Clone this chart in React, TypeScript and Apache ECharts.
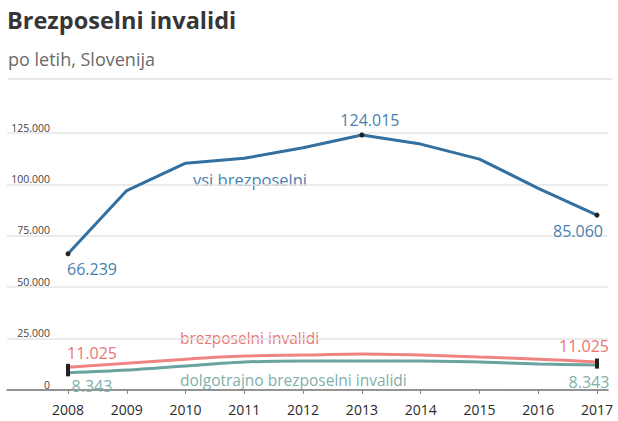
import React, { useEffect, useRef } from 'react';
import * as echarts from 'echarts';

const years = ['2008', '2009', '2010', '2011', '2012', '2013', '2014', '2015', '2016', '2017'];
const vsiBrezposelni = [66239, 97000, 110300, 112700, 117800, 124015, 119600, 112300, 98100, 85060];
const brezposelniInvalidi = [11025, 13000, 15000, 16500, 17000, 17500, 17000, 16000, 15000, 13600];
const dolgotrajnoInvalidi = [8343, 9700, 11700, 13600, 14100, 14100, 14100, 13600, 12600, 12100];
const blueLabelIdx = [0, 5, 9];
const redEndLabels = ['11.025', '11.025'];
const tealEndLabels = ['8.343', '8.343'];
const yMin = 0;
const yMax = 125000;
const yInterval = 25000;

const FONT = '"Open Sans", "Noto Sans", sans-serif';
const BLUE = '#33709f';
const BLUE_T = '#4a80ae';
const RED = '#ef8581';
const RED_T = '#ea7571';
const TEAL = '#6aa39f';
const TEAL_T = '#80b0ad';

function fmt(v: number): string {
  return String(v).replace(/\B(?=(\d{3})+(?!\d))/g, '.');
}

export default function App() {
  const ref = useRef<HTMLDivElement>(null);
  useEffect(() => {
    document.body.style.margin = '0';
    const chart = echarts.init(ref.current!, undefined, { renderer: 'svg' });
    const last = years.length - 1;

    const blueData = vsiBrezposelni.map((v, i) => {
      if (i === 0) return { value: v, label: { show: true, position: 'bottom', offset: [24, 0] } };
      if (i === 5) return { value: v, label: { show: true, position: 'top', offset: [8, 0] } };
      if (i === last) return { value: v, label: { show: true, position: 'bottom', offset: [-19, 0] } };
      return { value: v };
    });
    const redData = brezposelniInvalidi.map((v, i) => {
      if (i === 0) return { value: v, label: { show: true, position: 'top', offset: [24, 2], formatter: redEndLabels[0] } };
      if (i === last) return { value: v, label: { show: true, position: 'top', offset: [-13, 0], formatter: redEndLabels[1] } };
      return { value: v };
    });
    const tealData = dolgotrajnoInvalidi.map((v, i) => {
      if (i === 0) return { value: v, label: { show: true, position: 'bottom', offset: [24, -3], formatter: tealEndLabels[0] } };
      if (i === last) return { value: v, label: { show: true, position: 'bottom', offset: [-8, 0], formatter: tealEndLabels[1] } };
      return { value: v };
    });

    const endRect = (v: any, p: any) => (p.dataIndex === 0 || p.dataIndex === last ? [4, 7] : 0);

    chart.setOption({
      animation: false,
      grid: [
        { left: 7, right: 10, top: 133, bottom: 31 },
        { left: 68, right: 21, top: 133, bottom: 31 },
      ],
      xAxis: [
        {
          gridIndex: 0,
          type: 'category',
          data: years,
          boundaryGap: false,
          axisLine: { show: true, lineStyle: { color: '#777', width: 1.5 } },
          axisTick: { show: false },
          axisLabel: { show: false },
          splitLine: { show: false },
        },
        {
          gridIndex: 1,
          type: 'category',
          data: years,
          boundaryGap: false,
          axisLine: { show: false },
          axisTick: { show: true, length: 4, lineStyle: { color: '#888' } },
          axisLabel: { color: '#2a2a2a', fontSize: 14, fontFamily: FONT, margin: 12 },
          splitLine: { show: false },
        },
      ],
      yAxis: [
        {
          gridIndex: 0,
          type: 'value',
          min: yMin,
          max: yMax,
          interval: yInterval,
          axisLine: { show: false },
          axisTick: { show: false },
          axisLabel: {
            inside: true,
            margin: 43,
            align: 'right',
            verticalAlign: 'bottom',
            color: '#444',
            fontSize: 10.5,
            fontFamily: FONT,
            formatter: (v: number) => fmt(v),
          },
          splitLine: { show: true, lineStyle: { color: '#e4e4e4', width: 1.5 } },
        },
        {
          gridIndex: 1,
          type: 'value',
          min: yMin,
          max: yMax,
          interval: yInterval,
          show: false,
          splitLine: { show: false },
        },
      ],
      series: [
        {
          name: 'vsi brezposelni',
          type: 'line',
          xAxisIndex: 1,
          yAxisIndex: 1,
          data: blueData,
          symbol: 'circle',
          symbolSize: (v: any, p: any) => (blueLabelIdx.indexOf(p.dataIndex) >= 0 ? 5 : 0),
          itemStyle: { color: '#222' },
          lineStyle: { color: BLUE, width: 3 },
          label: {
            show: false,
            color: BLUE_T,
            fontSize: 16,
            fontFamily: FONT,
            formatter: (p: any) => fmt(p.value),
          },
          z: 5,
        },
        {
          name: 'brezposelni invalidi',
          type: 'line',
          xAxisIndex: 1,
          yAxisIndex: 1,
          data: redData,
          smooth: 0.3,
          symbol: 'rect',
          symbolSize: endRect,
          itemStyle: { color: '#222' },
          lineStyle: { color: RED, width: 3 },
          label: { show: false, color: RED_T, fontSize: 16, fontFamily: FONT },
          z: 4,
        },
        {
          name: 'dolgotrajno brezposelni invalidi',
          type: 'line',
          xAxisIndex: 1,
          yAxisIndex: 1,
          data: tealData,
          smooth: 0.3,
          symbol: 'rect',
          symbolSize: endRect,
          itemStyle: { color: '#222' },
          lineStyle: { color: TEAL, width: 3 },
          label: { show: false, color: TEAL_T, fontSize: 16, fontFamily: FONT },
          z: 3,
        },
      ],
      graphic: [
        {
          type: 'text',
          x: 7,
          y: 20,
          style: { text: 'Brezposelni invalidi', font: `bold 23.5px ${FONT}`, fill: '#363636', verticalAlign: 'middle' },
        },
        {
          type: 'text',
          x: 8,
          y: 59,
          style: { text: 'po letih, Slovenija', font: `18px ${FONT}`, fill: '#6a6a6a', verticalAlign: 'middle' },
        },
        {
          type: 'line',
          shape: { x1: 8, y1: 79, x2: 612, y2: 79 },
          style: { stroke: '#d0d0d0', lineWidth: 1 },
        },
        {
          type: 'text',
          x: 193,
          y: 179,
          style: { text: 'vsi brezposelni', font: `16.5px ${FONT}`, fill: BLUE_T, verticalAlign: 'middle' },
        },
        {
          type: 'text',
          x: 180,
          y: 338,
          style: { text: 'brezposelni invalidi', font: `15.5px ${FONT}`, fill: RED_T, verticalAlign: 'middle' },
        },
        {
          type: 'text',
          x: 180,
          y: 380,
          style: { text: 'dolgotrajno brezposelni invalidi', font: `15.5px ${FONT}`, fill: TEAL_T, verticalAlign: 'middle' },
        },
      ],
    });
    return () => chart.dispose();
  }, []);
  return <div ref={ref} style={{ width: 618, height: 421 }} />;
}
